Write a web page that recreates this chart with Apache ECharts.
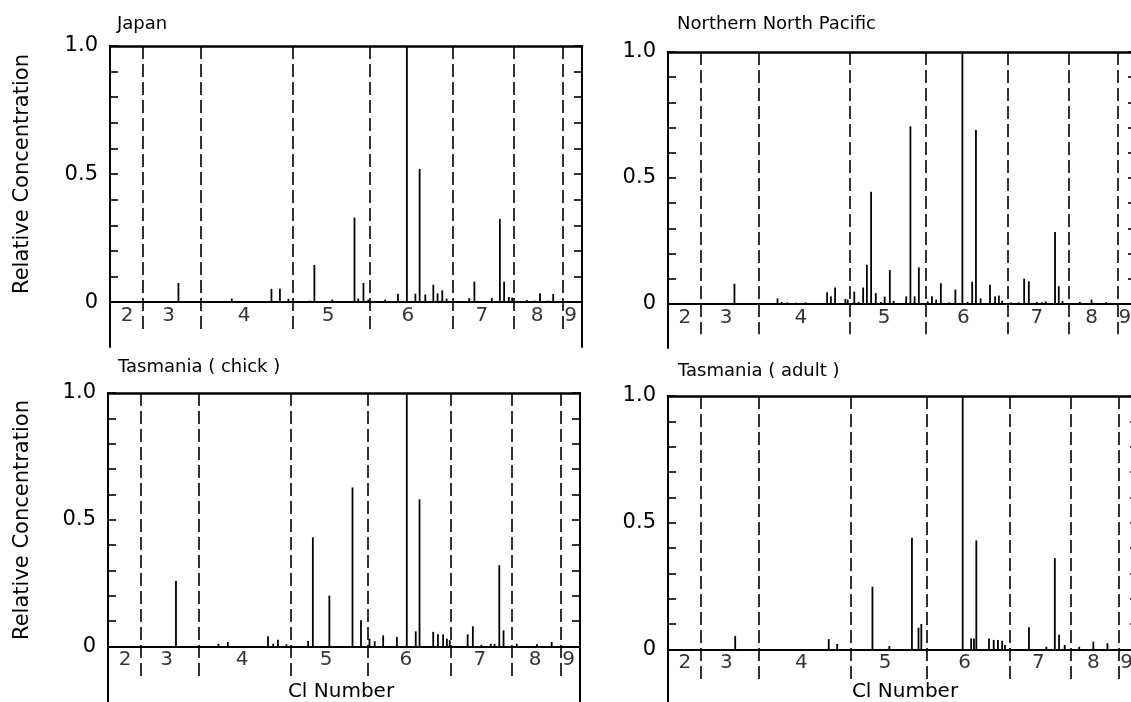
<!DOCTYPE html>
<html><head><meta charset="utf-8">
<script src="https://cdn.jsdelivr.net/npm/echarts@6/dist/echarts.min.js"></script>
<style>html,body{margin:0;padding:0;background:#fff}#c{width:1131px;height:702px}</style>
</head><body><div id="c"></div>
<script>
// ---- data ----
const panelTitles = ['Japan', 'Northern North Pacific', 'Tasmania ( chick )', 'Tasmania ( adult )'];
const homologs = ['2', '3', '4', '5', '6', '7', '8', '9'];
const homologLabelX = [3.6, 12.4, 28.4, 46.2, 63.1, 78.8, 90.5, 97.6];
const dividerX = [7.0, 19.3, 38.8, 55.1, 72.7, 85.6, 96.0];
const yTicks = [0, 0.1, 0.2, 0.3, 0.4, 0.5, 0.6, 0.7, 0.8, 0.9, 1.0];
const yTickLabels = [0, 0.5, 1.0];
const xAxisTitle = 'Cl Number';
const yAxisTitle = 'Relative Concentration';

const japanX = [14.5, 25.8, 34.2, 36.0, 37.8, 42.4, 43.3, 47.1, 51.8, 52.6, 53.7, 54.7, 58.3, 61.0, 62.9, 64.7, 65.6, 66.8, 68.5, 69.4, 70.4, 71.3, 76.1, 77.2, 80.9, 82.6, 83.5, 84.5, 85.2, 88.3, 90.0, 91.1, 92.9, 93.9];
const japanY = [0.075, 0.014, 0.052, 0.052, 0.013, 0.006, 0.145, 0.01, 0.33, 0.014, 0.075, 0.01, 0.01, 0.033, 1.0, 0.033, 0.52, 0.03, 0.068, 0.034, 0.046, 0.014, 0.016, 0.08, 0.016, 0.325, 0.08, 0.02, 0.018, 0.008, 0.006, 0.035, 0.006, 0.032];

const pacificX = [14.2, 23.4, 24.3, 25.5, 27.3, 29.4, 34.0, 34.8, 35.7, 37.9, 38.4, 39.8, 40.7, 41.7, 42.5, 43.4, 44.4, 45.5, 46.3, 47.4, 48.2, 50.9, 51.8, 52.7, 53.6, 55.5, 56.4, 57.3, 58.3, 60.1, 61.4, 62.9, 64.0, 65.0, 65.8, 66.8, 68.8, 69.9, 70.7, 71.4, 73.3, 74.9, 76.1, 77.1, 78.8, 79.9, 80.7, 82.7, 83.5, 84.3, 88.0, 90.5, 93.6];
const pacificY = [0.08, 0.022, 0.008, 0.006, 0.005, 0.006, 0.046, 0.03, 0.065, 0.02, 0.017, 0.049, 0.008, 0.065, 0.155, 0.445, 0.043, 0.008, 0.029, 0.134, 0.012, 0.03, 0.705, 0.03, 0.145, 0.01, 0.03, 0.017, 0.082, 0.006, 0.057, 1.0, 0.008, 0.088, 0.69, 0.022, 0.076, 0.03, 0.033, 0.013, 0.006, 0.006, 0.10, 0.09, 0.008, 0.007, 0.01, 0.285, 0.07, 0.012, 0.008, 0.017, 0.007];

const chickX = [14.4, 23.4, 25.4, 33.9, 35.0, 36.0, 37.8, 42.4, 43.4, 46.9, 51.8, 53.6, 55.4, 56.5, 58.3, 61.2, 63.3, 65.2, 66.0, 68.9, 69.9, 71.0, 71.8, 72.4, 76.2, 77.3, 79.1, 81.1, 81.9, 82.9, 83.8, 86.6, 90.9, 94.0];
const chickY = [0.258, 0.01, 0.017, 0.04, 0.01, 0.026, 0.008, 0.021, 0.43, 0.2, 0.627, 0.103, 0.03, 0.02, 0.043, 0.037, 1.0, 0.059, 0.58, 0.057, 0.047, 0.047, 0.03, 0.024, 0.047, 0.079, 0.006, 0.01, 0.01, 0.32, 0.063, 0.01, 0.008, 0.017];

const adultX = [14.3, 34.2, 36.0, 43.5, 47.1, 51.9, 53.3, 53.9, 62.7, 64.5, 65.1, 65.6, 68.3, 69.3, 70.2, 71.1, 71.7, 76.8, 80.5, 82.3, 83.2, 84.4, 87.5, 90.5, 93.5];
const adultY = [0.053, 0.04, 0.021, 0.247, 0.013, 0.44, 0.085, 0.10, 1.0, 0.043, 0.043, 0.43, 0.043, 0.037, 0.037, 0.034, 0.017, 0.087, 0.01, 0.36, 0.057, 0.017, 0.01, 0.03, 0.024];

// ---- build ----
const panelX = [japanX, pacificX, chickX, adultX];
const panelY = [japanY, pacificY, chickY, adultY];
const FONT = 'DejaVu Sans';

const grids = [
  {left: 110, top: 46, width: 472, height: 301},
  {left: 668, top: 52, width: 468, height: 296},
  {left: 108, top: 393, width: 472, height: 309},
  {left: 668, top: 396, width: 470, height: 309}
];
const yMins = [-0.175, -0.175, -0.22, -0.22];
const titlePos = [[117, 15], [677, 15], [118, 358], [678, 362]];

function makeYAxis(i, pos) {
  return {
    gridIndex: i, type: 'value', position: pos, min: yMins[i], max: 1.0,
    axisLine: {show: true, onZero: false, lineStyle: {color: '#000', width: 2}},
    axisTick: {show: true, inside: true, length: 8, customValues: yTicks.slice(), lineStyle: {color: '#000', width: 1.6}},
    splitLine: {show: false},
    axisLabel: pos === 'left'
      ? {show: true, customValues: yTickLabels.slice(), margin: 12, fontFamily: FONT, fontSize: 21, color: '#000',
         formatter: v => (v === 0 ? '0' : v.toFixed(1))}
      : {show: false}
  };
}

const xAxes = [], yAxes = [], series = [], titles = [], graphics = [];
grids.forEach((g, i) => {
  g.outerBoundsMode = 'none';
  g.containLabel = false;
  titles.push({text: panelTitles[i], left: titlePos[i][0], top: titlePos[i][1], padding: 0,
    textStyle: {fontFamily: FONT, fontSize: 18, fontWeight: 'normal', color: '#000'}});
  xAxes.push({gridIndex: i, type: 'value', min: 0, max: 100,
    axisLine: {show: true, onZero: true, lineStyle: {color: '#000', width: 2.2}},
    axisTick: {show: false}, axisLabel: {show: false}, splitLine: {show: false}});
  xAxes.push({gridIndex: i, type: 'value', position: 'top', min: 0, max: 100,
    axisLine: {show: true, onZero: false, lineStyle: {color: '#000', width: 2.6}},
    axisTick: {show: false}, axisLabel: {show: false}, splitLine: {show: false}});
  yAxes.push(makeYAxis(i, 'left'));
  yAxes.push(makeYAxis(i, 'right'));

  series.push({type: 'bar', xAxisIndex: 2 * i, yAxisIndex: 2 * i, barWidth: 1.8, silent: true,
    itemStyle: {color: '#000'},
    data: panelX[i].map((x, k) => [x, panelY[i][k]]),
    markLine: {silent: true, symbol: 'none', label: {show: false}, animation: false,
      lineStyle: {color: '#000', type: [13, 5], width: 1.6},
      data: dividerX.map(d => [{coord: [d, 1.0]}, {coord: [d, -0.12]}])}});
  // panel right frame: a line series along the axis maximum
  series.push({type: 'line', xAxisIndex: 2 * i, yAxisIndex: 2 * i, silent: true, clip: false,
    symbol: 'none', lineStyle: {color: '#000', width: 2}, z: 5,
    data: [[100, yMins[i]], [100, 1.0]]});
  series.push({type: 'scatter', xAxisIndex: 2 * i, yAxisIndex: 2 * i, silent: true,
    symbolSize: 1, itemStyle: {color: 'rgba(0,0,0,0)'},
    label: {show: true, position: 'inside', formatter: p => p.value[2], fontFamily: FONT, fontSize: 20, color: '#000'},
    data: homologs.map((h, k) => [homologLabelX[k], -0.055, h])});
});

graphics.push(
  {type: 'text', x: 23, y: 174, rotation: Math.PI / 2,
    style: {text: yAxisTitle, font: '21px "DejaVu Sans"', fill: '#000', textAlign: 'center', textVerticalAlign: 'middle'}},
  {type: 'text', x: 23, y: 520, rotation: Math.PI / 2,
    style: {text: yAxisTitle, font: '21px "DejaVu Sans"', fill: '#000', textAlign: 'center', textVerticalAlign: 'middle'}},
  {type: 'text', x: 341, y: 692,
    style: {text: xAxisTitle, font: '20px "DejaVu Sans"', fill: '#000', textAlign: 'center', textVerticalAlign: 'middle'}},
  {type: 'text', x: 905, y: 692,
    style: {text: xAxisTitle, font: '20px "DejaVu Sans"', fill: '#000', textAlign: 'center', textVerticalAlign: 'middle'}}
);

const chart = echarts.init(document.getElementById('c'), null, {renderer: 'canvas'});
chart.setOption({
  animation: false,
  backgroundColor: '#fff',
  title: titles,
  grid: grids,
  xAxis: xAxes,
  yAxis: yAxes,
  series: series,
  graphic: graphics
});
</script></body></html>
